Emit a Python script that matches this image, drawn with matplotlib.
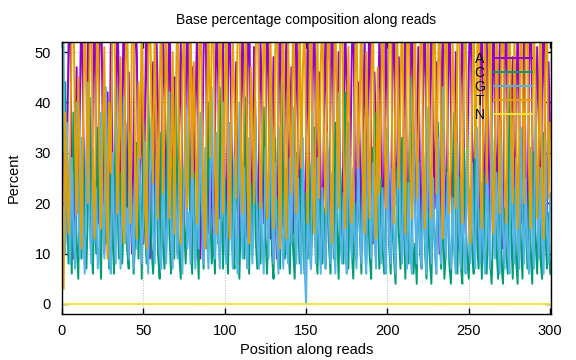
import numpy as np
import matplotlib
matplotlib.use("Agg")
import matplotlib.pyplot as plt

# percent of each base at each read position
positions = np.arange(1, 301)

base_A = [
    35, 12, 28, 51, 60, 22, 9, 30, 47, 18, 40, 62, 38, 14, 25, 55, 33, 11, 44, 58,
    27, 16, 49, 64, 36, 10, 21, 42, 15, 53, 31, 8, 24, 57, 45, 19, 37, 61, 29, 13,
    46, 23, 10, 34, 59, 50, 17, 28, 43, 12, 38, 63, 26, 9, 32, 48, 20, 54, 39, 14,
    24, 57, 41, 11, 30, 62, 35, 18, 45, 27, 10, 36, 52, 23, 13, 40, 60, 31, 16, 47,
    19, 38, 55, 28, 9, 25, 50, 64, 33, 14, 42, 21, 12, 34, 58, 44, 17, 29, 53, 22,
    11, 43, 61, 37, 15, 26, 48, 20, 10, 39, 56, 30, 13, 45, 63, 27, 18, 51, 35, 12,
    29, 52, 40, 16, 24, 59, 44, 13, 31, 49, 22, 9, 37, 62, 28, 15, 41, 55, 20, 33,
    47, 14, 26, 58, 36, 11, 38, 21, 17, 30, 54, 25, 10, 43, 60, 34, 19, 46, 23, 13,
    37, 56, 29, 12, 40, 65, 32, 16, 27, 50, 18, 9, 35, 57, 41, 14, 23, 48, 62, 26,
    15, 44, 31, 10, 36, 53, 21, 39, 61, 28, 12, 46, 33, 17, 54, 42, 11, 27, 59, 38,
    20, 13, 42, 64, 30, 16, 49, 25, 9, 37, 56, 22, 14, 40, 62, 35, 18, 31, 51, 24,
    12, 45, 58, 27, 15, 38, 60, 33, 19, 48, 26, 10, 41, 54, 29, 13, 36, 63, 39, 17,
    28, 50, 22, 11, 43, 57, 31, 14, 25, 47, 61, 34, 16, 39, 21, 9, 44, 58, 30, 20,
    53, 36, 13, 26, 62, 41, 18, 33, 52, 24, 11, 45, 60, 28, 15, 37, 49, 19, 32, 57,
    40, 16, 30, 55, 23, 12, 46, 63, 35, 14, 27, 51, 38, 10, 42, 59, 25, 17, 48, 33,
]

base_C = [
    30, 44, 22, 8, 18, 6, 38, 25, 12, 5, 27, 9, 33, 15, 7, 20, 41, 13, 6, 24,
    10, 35, 16, 5, 29, 40, 12, 22, 7, 31, 14, 6, 43, 21, 9, 26, 8, 17, 36, 11,
    7, 28, 19, 6, 13, 32, 9, 24, 5, 36, 15, 8, 42, 25, 11, 6, 18, 30, 10, 5,
    34, 12, 7, 23, 38, 14, 6, 29, 9, 45, 18, 10, 5, 27, 16, 8, 21, 37, 12, 6,
    26, 9, 15, 5, 33, 18, 7, 24, 11, 40, 20, 8, 14, 6, 30, 12, 43, 19, 7, 25,
    14, 6, 22, 31, 11, 7, 35, 16, 5, 19, 28, 9, 41, 17, 6, 24, 10, 32, 13, 7,
    20, 8, 26, 39, 14, 6, 18, 29, 10, 5, 33, 13, 21, 7, 44, 16, 9, 27, 12, 6,
    24, 11, 5, 30, 17, 8, 37, 14, 6, 22, 9, 28, 7, 19, 35, 12, 6, 25, 15, 8,
    19, 7, 31, 12, 6, 23, 9, 36, 15, 5, 27, 18, 8, 42, 14, 7, 29, 11, 5, 20,
    9, 26, 14, 6, 34, 16, 8, 22, 10, 5, 31, 13, 38, 19, 7, 25, 11, 6, 17, 35,
    12, 6, 21, 9, 4, 27, 14, 7, 33, 18, 5, 24, 8, 45, 16, 6, 12, 4, 29, 10,
    7, 30, 11, 5, 18, 9, 4, 22, 13, 6, 36, 15, 7, 20, 5, 11, 28, 8, 4, 16,
    38, 14, 6, 25, 8, 4, 31, 17, 9, 5, 23, 11, 6, 40, 13, 7, 19, 5, 26, 10,
    6, 21, 9, 4, 15, 33, 11, 5, 27, 8, 4, 19, 10, 6, 43, 14, 5, 23, 9, 4,
    28, 12, 5, 36, 16, 7, 22, 10, 4, 30, 13, 6, 24, 9, 5, 34, 15, 7, 18, 6,
]

base_G = [
    52, 10, 36, 22, 8, 29, 14, 7, 40, 19, 9, 33, 13, 6, 27, 44, 15, 8, 31, 12,
    23, 7, 11, 38, 20, 9, 43, 26, 10, 6, 30, 15, 8, 35, 17, 7, 24, 41, 12, 19,
    9, 34, 14, 7, 28, 11, 39, 21, 8, 17, 32, 12, 6, 25, 37, 14, 8, 29, 20, 10,
    7, 30, 16, 8, 20, 42, 13, 7, 33, 19, 9, 28, 14, 6, 24, 39, 11, 18, 8, 35,
    15, 7, 26, 11, 38, 20, 8, 31, 14, 7, 22, 43, 16, 9, 34, 13, 7, 25, 40, 12,
    8, 21, 36, 14, 7, 29, 12, 6, 40, 18, 9, 27, 11, 7, 33, 16, 8, 22, 37, 13,
    7, 26, 12, 6, 31, 17, 9, 44, 19, 8, 28, 13, 6, 35, 15, 7, 24, 11, 8, 29,
    12, 39, 18, 8, 25, 14, 6, 33, 8, 0, 21, 11, 7, 38, 16, 8, 29, 13, 6, 23,
    10, 7, 34, 17, 8, 26, 12, 6, 30, 42, 14, 8, 22, 11, 6, 36, 18, 9, 27, 13,
    7, 31, 15, 8, 24, 11, 6, 37, 19, 9, 28, 13, 7, 40, 16, 8, 23, 11, 6, 33,
    14, 8, 27, 12, 6, 20, 36, 15, 8, 30, 13, 7, 24, 10, 6, 34, 17, 8, 28, 12,
    7, 29, 13, 6, 39, 18, 8, 25, 11, 6, 33, 14, 8, 43, 19, 9, 26, 12, 7, 21,
    10, 6, 32, 15, 7, 23, 11, 6, 37, 17, 8, 28, 12, 7, 35, 16, 8, 24, 11, 6,
    30, 14, 7, 40, 18, 9, 26, 12, 6, 33, 15, 7, 22, 10, 6, 38, 17, 8, 29, 13,
    7, 35, 16, 8, 25, 11, 6, 31, 14, 7, 42, 19, 9, 27, 12, 6, 33, 15, 8, 22,
]

base_T = [
    3, 38, 22, 14, 30, 55, 62, 33, 18, 45, 26, 11, 36, 58, 41, 20, 52, 63, 24, 13,
    42, 60, 28, 15, 34, 51, 24, 9, 40, 26, 57, 64, 37, 18, 30, 49, 21, 12, 47, 59,
    33, 16, 55, 61, 26, 13, 44, 29, 58, 36, 20, 11, 49, 62, 38, 24, 57, 31, 17, 43,
    60, 22, 34, 56, 39, 17, 28, 50, 14, 41, 63, 30, 12, 46, 55, 27, 19, 35, 61, 25,
    48, 33, 16, 43, 64, 37, 20, 11, 39, 57, 29, 52, 62, 26, 14, 32, 59, 45, 18, 40,
    61, 27, 13, 35, 52, 40, 21, 58, 62, 30, 18, 44, 56, 24, 12, 47, 38, 20, 50, 63,
    41, 19, 32, 60, 45, 17, 26, 55, 37, 15, 49, 64, 28, 11, 43, 57, 23, 13, 52, 36,
    22, 59, 44, 18, 29, 61, 27, 46, 57, 33, 16, 42, 63, 25, 14, 38, 54, 21, 47, 60,
    31, 18, 47, 62, 25, 12, 40, 58, 36, 19, 53, 64, 30, 15, 34, 51, 26, 16, 22, 45,
    58, 27, 39, 63, 24, 14, 50, 33, 17, 44, 60, 26, 13, 47, 22, 35, 61, 40, 19, 30,
    55, 62, 29, 16, 44, 57, 23, 40, 63, 31, 14, 52, 60, 27, 17, 43, 56, 21, 33, 48,
    62, 24, 15, 43, 56, 28, 17, 49, 61, 22, 46, 59, 30, 13, 44, 62, 34, 18, 27, 52,
    41, 19, 53, 63, 27, 16, 45, 58, 33, 20, 12, 41, 57, 29, 46, 64, 23, 15, 40, 55,
    24, 44, 60, 31, 14, 27, 56, 38, 18, 49, 62, 25, 16, 42, 59, 33, 20, 54, 37, 15,
    32, 58, 45, 20, 51, 63, 26, 15, 37, 55, 43, 17, 30, 61, 24, 13, 47, 57, 21, 36,
]

base_N = [0] * 300

bases = ["A", "C", "G", "T", "N"]
colors = ["#9400D3", "#009E73", "#56B4E9", "#E69F00", "#F0E442"]

plt.rcParams["font.family"] = ["Liberation Sans", "DejaVu Sans"]

fig = plt.figure(figsize=(5.76, 3.6), dpi=100)
ax = fig.add_axes([62 / 576, 1 - 314 / 360, 489 / 576, 272 / 360])

for name, vals, col in zip(bases, [base_A, base_C, base_G, base_T, base_N], colors):
    ax.plot(positions, vals, color=col, lw=1.4, label=name)

ax.set_xlim(0, 300.5)
ax.set_ylim(-2, 52)
ax.set_xticks(range(0, 301, 50))
ax.set_yticks(range(0, 51, 10))
ax.grid(True, color="#b0b0b0", linestyle=":", linewidth=0.7)
ax.tick_params(direction="in", length=4, width=1, top=True, right=True,
               labelsize=10.5)
ax.tick_params(axis="x", pad=7)
ax.tick_params(axis="y", pad=8)
for s in ax.spines.values():
    s.set_linewidth(1)

ax.set_title("Base percentage composition along reads", fontsize=10, pad=13)
ax.set_xlabel("Position along reads", fontsize=10.5, labelpad=4)
ax.set_ylabel("Percent", fontsize=10.5, labelpad=10)

ax.legend(loc="upper right", bbox_to_anchor=(0.961, 0.965), frameon=False,
          markerfirst=False, fontsize=10, handlelength=2.7, handletextpad=0.7,
          labelspacing=0.0, borderpad=0, borderaxespad=0)

fig.savefig("out.png", dpi=100)
